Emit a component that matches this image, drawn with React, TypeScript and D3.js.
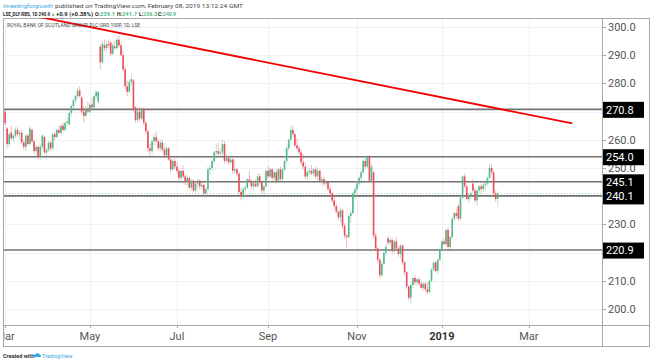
import React from "react";
import * as d3 from "d3";

// daily bars, LSE:RBS, from 2018-03-01
const START = "2018-03-01";
const holidays = [
  "2018-03-30", "2018-04-02", "2018-05-07", "2018-05-28", "2018-08-27",
  "2018-12-25", "2018-12-26", "2019-01-01", "2019-04-19", "2019-04-22",
];

// [open, high, low, close]
const ohlc: [number, number, number, number][] = [
  [270, 271, 265, 266], [264, 264.5, 257, 258.5], [258.5, 263, 257.5, 262], [262.5, 265, 260, 260.5],
  [260.5, 262, 259, 261.5], [261.5, 264.5, 260.5, 263.5], [263.5, 264.5, 261, 262], [262, 263.5, 260, 262.5],
  [262.5, 263.5, 258.5, 259], [259, 260, 256.5, 257.5], [257.5, 262, 256, 261.5], [261.5, 262, 258, 258.5],
  [258.5, 265, 258, 264], [263.5, 264, 259, 259.5], [259.5, 260, 255, 256], [256, 258, 254, 257.5],
  [257.5, 258, 253, 254], [254, 258.5, 253, 257.5], [257.5, 262, 256.5, 261.5], [261, 261.5, 255, 255.5],
  [255.5, 257, 253, 256.5], [256.5, 259.5, 255.5, 259], [259, 259.5, 256, 257], [257, 262.5, 256.5, 262],
  [262, 263, 260, 261], [261, 264, 260.5, 263.5], [263.5, 265, 262, 262.5], [262.5, 265.5, 261.5, 265],
  [265, 266, 263, 263.5], [263.5, 266.5, 263, 266], [266, 268, 265, 266.5], [265.5, 270, 265, 269.5],
  [269.5, 272.5, 268.5, 272], [272, 274.5, 271, 274], [274, 276, 273, 275.5], [275.5, 278.5, 274.5, 277.5],
  [277.5, 279, 275, 275.5], [275, 275.5, 269, 270], [270, 272, 266, 268.5], [268.5, 272, 268, 271],
  [271, 273.5, 269.5, 270], [270, 273, 269.5, 272.5], [272.5, 275, 271, 271.5], [271.5, 276, 271, 275.5],
  [275.5, 277.5, 274.5, 277], [273.5, 277.5, 272.5, 277], [293, 294, 285, 287.5], [287.5, 295, 287, 294],
  [293.5, 295.5, 291.5, 292.5], [292.5, 295, 291, 294], [294, 295.5, 292.5, 293.5], [294.5, 295, 289.5, 290.5],
  [290.5, 294.5, 290, 293.5], [293, 295.5, 292, 292.5], [292.5, 296.5, 292, 295.5], [295.5, 297, 293, 293.5],
  [293.5, 294.5, 289.5, 290], [290, 291.5, 284, 285], [285, 286, 278, 279], [279, 281, 275.5, 277],
  [277, 281.5, 276.5, 280.5], [280.5, 283, 279, 281.5], [281, 281.5, 270, 271], [271.5, 272, 266, 267],
  [267, 270.5, 266, 270], [270, 271.5, 266.5, 267.5], [267.5, 271.5, 267, 271], [271, 271.5, 265, 266],
  [266, 266.5, 262, 263], [263, 263.5, 255.5, 257], [257, 258.5, 254, 256], [256, 260, 255, 259.5],
  [259.5, 262, 258, 261], [261, 263, 259, 259.5], [259.5, 260.5, 256, 257], [257, 260, 256, 259],
  [259, 260, 255.5, 256.5], [256.5, 257.5, 253.5, 254.5], [254.5, 258, 254, 257], [257, 257.5, 252.5, 253],
  [253, 254, 248.5, 249.5], [249.5, 253, 249, 252.5], [252.5, 253.5, 249.5, 250.5], [250.5, 252, 248, 249],
  [249, 250, 245.5, 246.5], [246.5, 249.5, 245.5, 249], [249, 251, 246.5, 247], [247, 248, 244, 245],
  [245, 247.5, 243.5, 246.5], [246.5, 247, 242.5, 243], [243, 246, 242, 245.5], [245.5, 246, 241.5, 242],
  [242, 245.5, 241, 244.5], [244.5, 246.5, 243, 245.5], [245.5, 246, 242.5, 243.5], [243.5, 245, 242, 244],
  [244, 244.5, 240.5, 241], [241, 243, 239.5, 242.5], [242.5, 250.5, 242, 249.5], [249.5, 251, 247.5, 250],
  [250, 253, 249, 252.5], [252.5, 256, 251.5, 255.5], [255.5, 258.5, 254, 256], [256, 259, 254.5, 255],
  [255, 257, 253.5, 255.5], [255.5, 260, 254.5, 258.5], [258.5, 259.5, 251.5, 252.5], [252.5, 255, 252, 253.5],
  [253.5, 254, 251, 252], [252, 254, 251.5, 253], [253, 253.5, 248, 249], [249, 253, 248, 249.5],
  [249.5, 250, 247, 248], [248, 248.5, 240.5, 241.5], [241.5, 243, 238.5, 240], [240, 243.5, 239, 242.5],
  [242.5, 244, 241, 243], [243, 246.5, 242.5, 246], [246, 249, 245, 245.5], [245.5, 246, 242.5, 243.5],
  [243.5, 245.5, 242, 244.5], [244.5, 246, 243, 243.5], [243.5, 248, 243, 247], [247, 248, 244, 245],
  [245, 245.5, 241, 242], [242, 244, 240.5, 243.5], [243.5, 249.5, 243, 249], [249, 250.5, 246, 247],
  [247, 250, 246.5, 249.5], [249.5, 250, 245.5, 246.5], [246.5, 249, 245, 248.5], [248.5, 249.5, 244.5, 245.5],
  [245.5, 250, 245, 249.5], [249.5, 250.5, 245, 246], [246, 250, 245.5, 249.5], [249.5, 253, 249, 252.5],
  [252.5, 258, 252, 257], [257, 260.5, 256, 260], [260, 265, 259.5, 263.5], [263.5, 265, 261, 262],
  [262, 262.5, 257.5, 258], [258, 260.5, 256.5, 257], [257, 258, 254.5, 255.5], [255.5, 256.5, 251, 252],
  [252, 255, 249.5, 250.5], [250.5, 252, 246, 247], [247, 249.5, 245.5, 248.5], [248.5, 250, 247.5, 249],
  [249, 251, 247.5, 248], [248, 250, 247, 249.5], [249.5, 250.5, 246, 247], [247, 250, 245.5, 249],
  [249, 249.5, 245, 245.5], [245.5, 247, 244, 246], [246, 247, 243.5, 244.5], [244.5, 246, 243.5, 245],
  [245, 245.5, 242, 242.5], [242.5, 243.5, 240.5, 241], [241, 241.5, 237.5, 238.5], [238.5, 240, 235.5, 236.5],
  [236.5, 237.5, 234, 234.5], [234.5, 235, 231.5, 232.5], [232.5, 236, 231, 235], [235, 235.5, 228.5, 229.5],
  [229.5, 230.5, 225, 226], [226, 226.5, 221.5, 225.5], [225.5, 233.5, 225, 233], [233, 235, 230.5, 234],
  [234, 241.5, 233.5, 241], [241, 243.5, 239, 242.5], [242.5, 245.5, 241.5, 244.5], [244.5, 247, 243.5, 246.5],
  [246.5, 249.5, 245.5, 248.5], [248.5, 253, 248, 252.5], [252.5, 253.5, 249.5, 250.5], [250.5, 254.5, 250, 254],
  [254, 254.5, 245, 245.5], [245.5, 251.5, 245, 250.5], [248.5, 249, 225, 226], [226, 227, 220.5, 221.5],
  [221.5, 222, 216.5, 217.5], [217.5, 218, 211, 212], [212, 217, 211.5, 216], [216, 220.5, 215.5, 220],
  [220, 223, 219, 222], [225, 226, 222.5, 223.5], [223.5, 225.5, 222.5, 224.5], [224.5, 225, 219.5, 220.5],
  [220.5, 224.5, 220, 224], [224, 225.5, 220.5, 221.5], [221.5, 222.5, 218.5, 219.5], [219.5, 223, 218, 222.5],
  [222.5, 223, 215.5, 216.5], [216.5, 217, 212, 213], [213, 213.5, 207, 208], [208, 208.5, 203, 204],
  [204, 209.5, 202, 208.5], [208.5, 211.5, 207.5, 211], [211, 212, 208.5, 209.5], [209.5, 211, 208.5, 210.5],
  [210.5, 211.5, 208, 209], [209, 210, 207, 207.5], [207.5, 209.5, 206.5, 209], [209, 209.5, 206, 207],
  [207, 209.5, 205, 206], [206, 210.5, 205.5, 210], [210, 214.5, 209.5, 214], [214, 217, 213.5, 216.5],
  [216.5, 217, 213, 213.5], [213.5, 218, 212.5, 217.5], [217.5, 221.5, 217, 221], [221, 224.5, 220.5, 224],
  [224, 225, 222.5, 223], [223, 228.5, 222.5, 228], [228, 229, 221, 222], [222, 226, 221.5, 225.5],
  [225.5, 232.5, 225, 232], [232, 234.5, 231, 234], [234, 235.5, 232, 233], [236.5, 237.5, 231, 232],
  [232, 240, 231.5, 239.5], [239.5, 247.5, 239, 247], [247, 248, 243, 243.5], [243.5, 244, 238.5, 239],
  [239, 241, 237.5, 240.5], [240.5, 241.5, 239.5, 241], [244.5, 246, 241, 242], [242, 243, 237.5, 238.5],
  [238.5, 242.5, 236.5, 242], [242, 244, 240.5, 243.5], [243.5, 244.5, 241, 242.5], [242.5, 244.5, 241.5, 244],
  [244, 245, 242, 244.5], [244.5, 247, 243.5, 246.5], [246.5, 251.5, 246, 250], [250, 251.5, 247.5, 248.5],
  [248.5, 249, 240, 241], [241, 242, 238, 239], [239.1, 241.7, 236.3, 240.9],
];

const yTicks = [200, 210, 220, 230, 240, 250, 260, 270, 280, 290, 300];
const levels = [270.8, 254.0, 245.1, 240.1, 220.9];
const lastClose = 240.9;
const tickMonths = ["2018-03", "2018-05", "2018-07", "2018-09", "2018-11", "2019-01", "2019-03"];
const tickLabels = ["Mar", "May", "Jul", "Sep", "Nov", "2019", "Mar"];
const trendStart = { date: "2018-03-26", price: 303.5 };
const trendEnd = { date: "2019-04-01", price: 265.8 };

const UP = "#53b987";
const DOWN = "#eb4d5c";
const INK = "#222";
const LINK = "#3ba7e0";
const FONT = "Roboto, Arial, sans-serif";

// header pieces: text, left x, width, colour
const headerTop: [string, number, number, string][] = [
  ["investingforgrowth", 3, 50, LINK],
  ["published on TradingView.com, February 08, 2019 13:12:24 GMT", 55, 188, "#444"],
];
const headerQuote: [string, number, number, string][] = [
  ["LSE_DLY:RBS, 1D 240.9", 3, 47, INK],
  ["▲", 51, 4, UP],
  ["+0.9 (+0.38%)", 56, 37, INK],
  ["O:", 95, 5, INK],
  ["239.1", 100, 15, UP],
  ["H:", 117, 5, INK],
  ["241.7", 122, 15, UP],
  ["L:", 139, 4, INK],
  ["236.3", 143, 14, UP],
  ["C:", 158, 5, INK],
  ["240.9", 163, 13, UP],
];

function tradingDays(start: string, n: number) {
  const out: string[] = [];
  const d = new Date(start + "T00:00:00Z");
  while (out.length < n) {
    const day = d.getUTCDay();
    const key = d.toISOString().slice(0, 10);
    if (day !== 0 && day !== 6 && !holidays.includes(key)) out.push(key);
    d.setUTCDate(d.getUTCDate() + 1);
  }
  return out;
}

export default function App() {
  const W = 653, H = 363;
  const left = 3, right = 602, top = 18, bottom = 325, outerR = 650, outerB = 347;

  const days = tradingDays(START, 300);
  const idx = (date: string) => days.indexOf(date);

  const x = d3.scaleLinear().domain([-1.01, 288.35]).range([left, right]);
  const y = d3.scaleLinear().domain([194.33, 303.19]).range([bottom, top]);
  const step = x(1) - x(0);
  const bodyW = step * 0.78;

  const monthIdx = tickMonths.map(m => days.findIndex(d => d.startsWith(m)));

  const trend = d3.line<{ date: string; price: number }>()
    .x(d => x(idx(d.date)))
    .y(d => y(d.price));

  const boxH = 15;
  const fmt = d3.format(".1f");
  // tick labels hidden behind a level box are not drawn
  const shownTicks = yTicks.filter(t => levels.every(l => Math.abs(y(t) - y(l)) > 9));

  return (
    <svg width={W} height={H} style={{ position: "absolute", left: 0, top: 0, background: "#fff" }} fontFamily={FONT}>
      <defs>
        <clipPath id="plot">
          <rect x={left} y={top} width={right - left} height={bottom - top} />
        </clipPath>
      </defs>
      <rect width={W} height={H} fill="#fff" />

      {/* header */}
      {headerTop.map(([t, hx, w, c]) => (
        <text key={t} x={hx} y={7.5} fontSize={6} fill={c} textLength={w} lengthAdjust="spacingAndGlyphs">{t}</text>
      ))}
      {headerQuote.map(([t, hx, w, c], i) => (
        <text key={i} x={hx} y={15.5} fontSize={5.6} fontWeight="bold" fill={c} textLength={w} lengthAdjust="spacingAndGlyphs">{t}</text>
      ))}

      {/* grid */}
      <g stroke="#eef1f6" strokeWidth={1}>
        {yTicks.map(t => (
          <line key={t} x1={left} x2={right} y1={Math.round(y(t)) + 0.5} y2={Math.round(y(t)) + 0.5} />
        ))}
        {monthIdx.map((m, i) => (
          <line key={i} x1={Math.round(x(m)) + 0.5} x2={Math.round(x(m)) + 0.5} y1={top} y2={bottom} />
        ))}
      </g>

      {/* frame */}
      <rect x={left + 0.5} y={top + 0.5} width={outerR - left - 1} height={outerB - top - 1} fill="none" stroke="#a9a9a9" />
      <line x1={right + 0.5} x2={right + 0.5} y1={top} y2={outerB} stroke="#a9a9a9" />
      <line x1={left} x2={outerR} y1={bottom + 0.5} y2={bottom + 0.5} stroke="#a9a9a9" />

      <g clipPath="url(#plot)">
        {/* horizontal levels */}
        {levels.map(l => (
          <line key={l} x1={left} x2={right} y1={y(l)} y2={y(l)} stroke="#737373" strokeWidth={1.6} />
        ))}
        <line x1={left} x2={right} y1={y(lastClose)} y2={y(lastClose)} stroke={UP} strokeOpacity={0.55} strokeDasharray="1,2" />

        {/* candles */}
        {ohlc.map(([o, h, l, c], i) => {
          const col = c >= o ? UP : DOWN;
          const cx = x(i);
          const yTop = y(Math.max(o, c));
          const bh = Math.max(1, Math.abs(y(o) - y(c)));
          return (
            <g key={i}>
              <line x1={cx} x2={cx} y1={y(h)} y2={y(l)} stroke={col} strokeOpacity={0.4} strokeWidth={1} />
              <rect x={cx - bodyW / 2} y={yTop} width={bodyW} height={bh} fill={col} />
            </g>
          );
        })}

        {/* trend line */}
        <path d={trend([trendStart, trendEnd]) || ""} stroke="#f20000" strokeWidth={1.8} fill="none" />
      </g>

      {/* legend */}
      <text x={7} y={27} fontSize={6} fill="#444" textLength={133} lengthAdjust="spacingAndGlyphs">
        ROYAL BANK OF SCOTLAND GROUP PLC ORD 100P, 1D, LSE
      </text>

      {/* right axis */}
      {yTicks.map(t => (
        <line key={t} x1={right} x2={right + 4} y1={Math.round(y(t)) + 0.5} y2={Math.round(y(t)) + 0.5} stroke="#a9a9a9" />
      ))}
      {shownTicks.map(t => (
        <text key={t} x={608} y={y(t)} dy="0.35em" fontSize={11} fill="#555">{fmt(t)}</text>
      ))}
      {levels.map(l => (
        <g key={l}>
          <rect x={right + 1} y={y(l) - boxH / 2} width={41} height={boxH + 1} fill="#000" />
          <text x={606} y={y(l)} dy="0.38em" fontSize={11} fill="#fff">{fmt(l)}</text>
        </g>
      ))}

      {/* bottom axis */}
      {monthIdx.map((m, i) => (
        <g key={i}>
          <line x1={Math.round(x(m)) + 0.5} x2={Math.round(x(m)) + 0.5} y1={bottom} y2={bottom + 3} stroke="#a9a9a9" />
          <text x={x(m)} y={340} textAnchor="middle" fontSize={11}
            fill={tickLabels[i] === "2019" ? "#333" : "#555"} fontWeight={tickLabels[i] === "2019" ? "bold" : "normal"}>
            {tickLabels[i]}
          </text>
        </g>
      ))}
      <rect x={0} y={bottom + 1} width={left} height={outerB - bottom} fill="#fff" />
      <line x1={left + 0.5} x2={left + 0.5} y1={top} y2={outerB} stroke="#a9a9a9" />

      {/* footer */}
      <text x={3} y={358} fontSize={5.5} fill="#333" fontWeight="bold">Created with</text>
      <path d="M33,357 q0,-3 3,-3 q1,-2 3,0 q2,0 2,3 z" fill={LINK} />
      <text x={42} y={358} fontSize={5.5} fill={LINK}>TradingView</text>
    </svg>
  );
}
